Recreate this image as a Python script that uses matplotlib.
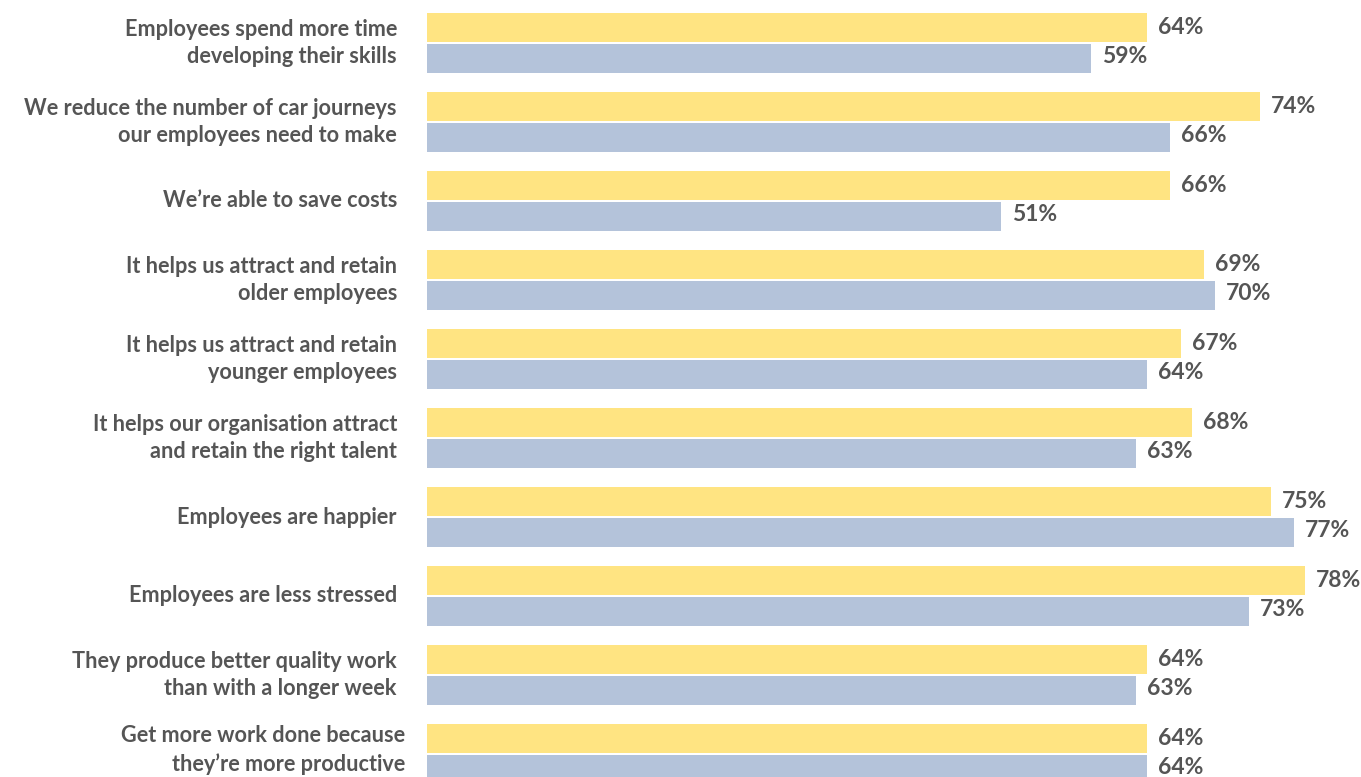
import matplotlib.pyplot as plt
import numpy as np

plt.rcParams['font.family'] = ['Lato', 'DejaVu Sans']

labels = [
    'Employees spend more time\ndeveloping their skills',
    'We reduce the number of car journeys\nour employees need to make',
    'We\u2019re able to save costs',
    'It helps us attract and retain\nolder employees',
    'It helps us attract and retain\nyounger employees',
    'It helps our organisation attract\nand retain the right talent',
    'Employees are happier',
    'Employees are less stressed',
    'They produce better quality work\nthan with a longer week',
    'Get more work done because\nthey\u2019re more productive',
]
yellow_vals = [64, 74, 66, 69, 67, 68, 75, 78, 64, 64]
blue_vals = [59, 66, 51, 70, 64, 63, 77, 73, 63, 64]

yellow = '#FFE482'
blue = '#B4C3DA'
text_col = '#555555'

x0 = 427
px_per_pct = 11.256

fig = plt.figure(figsize=(13.61, 7.77), dpi=100)
ax = fig.add_axes([x0 / 1361, 0, 1 - x0 / 1361, 1])

y = np.arange(len(labels))
h = 0.375
off = 0.196
ax.barh(y - off, yellow_vals, height=h, color=yellow)
ax.barh(y + off, blue_vals, height=h, color=blue)

for i, (yv, bv) in enumerate(zip(yellow_vals, blue_vals)):
    ax.annotate(f'{yv}%', (yv, i - off), xytext=(11, 0), textcoords='offset pixels',
                ha='left', va='center', fontsize=16.5, fontweight='bold', color=text_col)
    ax.annotate(f'{bv}%', (bv, i + off), xytext=(11, 2), textcoords='offset pixels',
                ha='left', va='center', fontsize=16.5, fontweight='bold', color=text_col)

# category labels, right aligned left of the bars
for i, lab in enumerate(labels):
    last = i == len(labels) - 1
    pad = (-22, 4) if last else (-30, 0)
    ax.annotate(lab, (0, i), xytext=pad, textcoords='offset pixels',
                ha='right', va='center', multialignment='right',
                fontsize=15.6, fontweight='bold', color=text_col,
                linespacing=1.4, annotation_clip=False)

ax.set_xlim(0, (1361 - x0) / px_per_pct)
ax.set_ylim((777 - 43) / 79, -43 / 79)
ax.axis('off')

fig.savefig('out.png', dpi=100)
